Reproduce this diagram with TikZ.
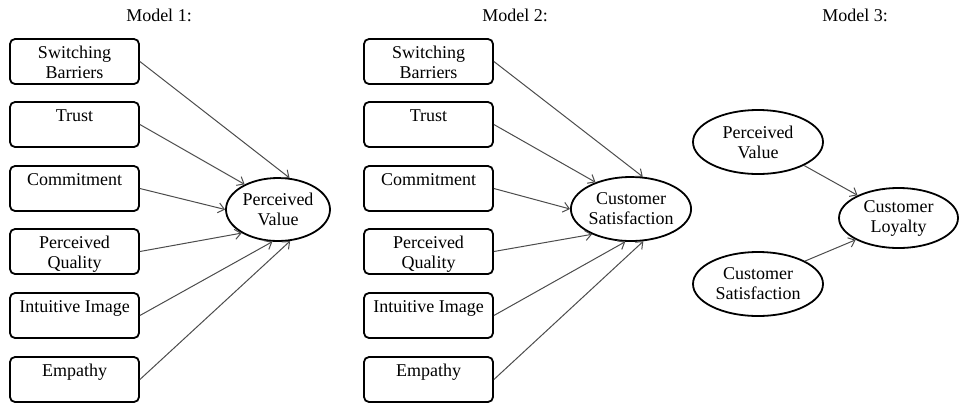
\documentclass[tikz,border=0pt]{standalone}
\usepackage{fontspec}
\setmainfont{Liberation Serif}
\usetikzlibrary{shapes.geometric,arrows.meta}
\newcommand{\hi}{\rule{0pt}{8.5pt}}
\newcommand{\lo}{\rule[-2pt]{0pt}{2pt}}
\begin{document}
\begin{tikzpicture}[x=0.5pt,y=0.5pt,
  every node/.style={font=\fontsize{9}{10}\selectfont},
  factor/.style={draw,rounded corners=2.5pt,line width=0.9pt,align=center,
    minimum width=64.5pt,minimum height=22.5pt,inner sep=0pt},
  latent/.style={draw,ellipse,line width=0.9pt,align=center,inner sep=0pt},
  path/.style={black!70,line width=0.5pt,-{Straight Barb[length=3pt,width=5pt]}}]
\useasboundingbox (0,0) rectangle (959,404);
%\draw[step=50,gray,very thin] (0,0) grid (959,404); %background grid

% Model 1
\node[anchor=base] (t1) at (159,383) {Model 1:};
\node[factor] (a1) at (74.5,342.5) {\hi Switching\\Barriers\lo}; %1
\node[factor] (a2) at (74.5,279.5) {\hi Trust\\\lo};               %2
\node[factor] (a3) at (74.5,215.5) {\hi Commitment\\\lo};          %3
\node[factor] (a4) at (74.5,152.5) {\hi Perceived\\Quality\lo};    %4
\node[factor] (a5) at (74.5,88.5)  {\hi Intuitive Image\\\lo};     %5
\node[factor] (a6) at (74.5,24.5)  {\hi Empathy\\\lo};             %6
\node[latent,minimum width=52pt,minimum height=31.5pt] (pv) at (278,194.5) {Perceived\\Value};

\draw[path](a1.east)--(pv.70);
\draw[path](a2.east)--(pv.143);
\draw[path](a3.east)--(pv.180);
\draw[path](a4.east)--(pv.213);
\draw[path](a5.east)--(pv.260);
\draw[path](a6.east)--(pv.291);

% Model 2
\node[anchor=base] (t2) at (515,383) {Model 2:};
\node[factor] (b1) at (428.5,342.5) {\hi Switching\\Barriers\lo}; %1
\node[factor] (b2) at (428.5,279.5) {\hi Trust\\\lo};               %2
\node[factor] (b3) at (428.5,215.5) {\hi Commitment\\\lo};          %3
\node[factor] (b4) at (428.5,152.5) {\hi Perceived\\Quality\lo};    %4
\node[factor] (b5) at (428.5,88.5)  {\hi Intuitive Image\\\lo};     %5
\node[factor] (b6) at (428.5,24.5)  {\hi Empathy\\\lo};             %6
\node[latent,minimum width=51pt,minimum height=32pt] (cs) at (631,195) {Customer\\Satisfaction};

\draw[path](b1.east)--(cs.70);
\draw[path](b2.east)--(cs.143);
\draw[path](b3.east)--(cs.180);
\draw[path](b4.east)--(cs.213);
\draw[path](b5.east)--(cs.260);
\draw[path](b6.east)--(cs.291);

% Model 3
\node[anchor=base] (t3) at (855,383) {Model 3:};
\node[latent,minimum width=65pt,minimum height=32pt] (pv3) at (758,262) {Perceived\\Value};
\node[latent,minimum width=65pt,minimum height=32pt] (cs3) at (758,120) {Customer\\Satisfaction};
\node[latent,minimum width=59.5pt,minimum height=30pt] (cl) at (898.5,186) {Customer\\Loyalty};

\draw[path](pv3.-27)--(cl.151);
\draw[path](cs3.26)--(cl.207);
\end{tikzpicture}
\end{document}
